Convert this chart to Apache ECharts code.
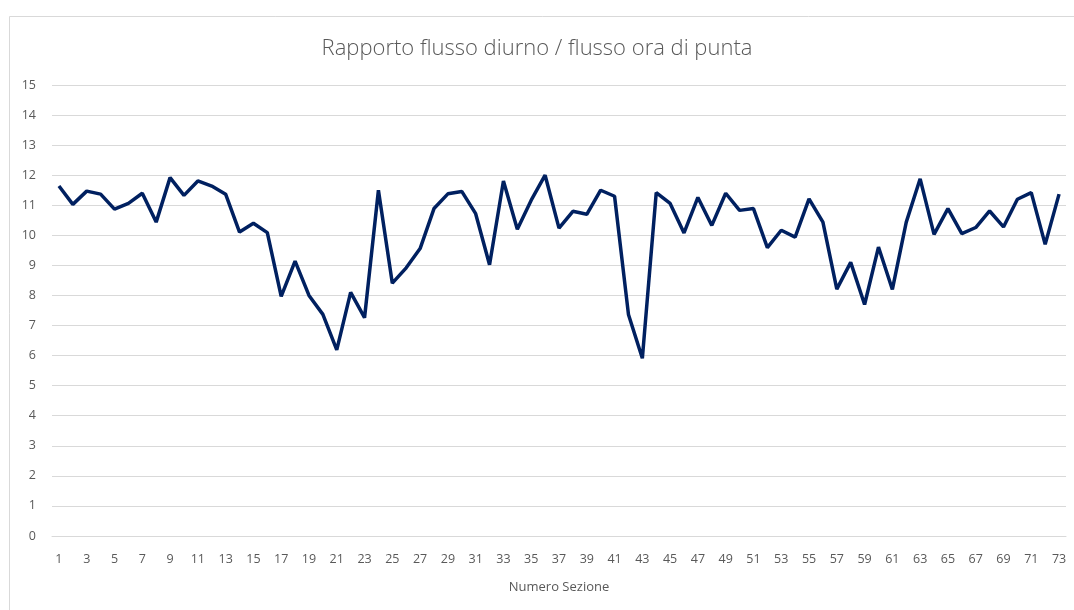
<!DOCTYPE html>
<html>
<head>
<meta charset="utf-8">
<script src="https://cdn.jsdelivr.net/npm/echarts@6/dist/echarts.min.js"></script>
<style>
  html, body { margin: 0; padding: 0; background: #fff; }
  #chart { width: 1074px; height: 610px; }
</style>
</head>
<body>
<div id="chart"></div>
<script>
// numero sezione 1..73
var sezioni = [];
for (var i = 1; i <= 73; i++) sezioni.push(String(i));

// rapporto flusso diurno / flusso ora di punta
var rapporto = [
  11.64, 11.03, 11.47, 11.37, 10.87, 11.06, 11.40, 10.44, 11.92, 11.33,
  11.81, 11.64, 11.37, 10.11, 10.40, 10.09, 7.97, 9.14, 8.00, 7.37,
  6.19, 8.10, 7.26, 11.50, 8.41, 8.92, 9.56, 10.89, 11.38, 11.46,
  10.72, 9.02, 11.81, 10.20, 11.17, 12.00, 10.24, 10.80, 10.70, 11.50,
  11.30, 7.37, 5.91, 11.42, 11.06, 10.08, 11.26, 10.33, 11.40, 10.83,
  10.89, 9.59, 10.17, 9.94, 11.21, 10.44, 8.21, 9.10, 7.70, 9.61,
  8.20, 10.44, 11.88, 10.03, 10.89, 10.06, 10.26, 10.81, 10.28, 11.20,
  11.42, 9.70, 11.37
];

var titolo = 'Rapporto flusso diurno / flusso ora di punta';
var nomeAsseX = 'Numero Sezione';

var myChart = echarts.init(document.getElementById('chart'));
var option = {
  animation: false,
  backgroundColor: '#fff',
  textStyle: { fontFamily: 'Open Sans' },
  title: {
    text: titolo,
    left: 'center',
    top: 33,
    textStyle: { color: '#595959', fontSize: 22, fontWeight: 300, fontFamily: 'Open Sans' }
  },
  graphic: [{
    type: 'rect',
    shape: { x: 9.5, y: 16.5, width: 1100, height: 700 },
    style: { fill: null, stroke: '#d9d9d9', lineWidth: 1 },
    silent: true
  }],
  grid: { left: 52, right: 8, top: 85, bottom: 74 },
  xAxis: {
    type: 'category',
    data: sezioni,
    boundaryGap: true,
    name: nomeAsseX,
    nameLocation: 'middle',
    nameGap: 45,
    nameTextStyle: { color: '#595959', fontSize: 13 },
    axisLine: { lineStyle: { color: '#d9d9d9' } },
    axisTick: { show: false },
    axisLabel: { interval: 1, color: '#595959', fontSize: 12.5, margin: 17 }
  },
  yAxis: {
    type: 'value',
    min: 0,
    max: 15,
    interval: 1,
    axisLine: { show: false },
    axisTick: { show: false },
    axisLabel: { color: '#595959', fontSize: 12.5, margin: 16 },
    splitLine: { lineStyle: { color: '#d9d9d9', width: 1 } }
  },
  series: [{
    type: 'line',
    data: rapporto,
    showSymbol: false,
    lineStyle: { color: '#002060', width: 3.5 },
    itemStyle: { color: '#002060' }
  }]
};
myChart.setOption(option);
</script>
</body>
</html>
